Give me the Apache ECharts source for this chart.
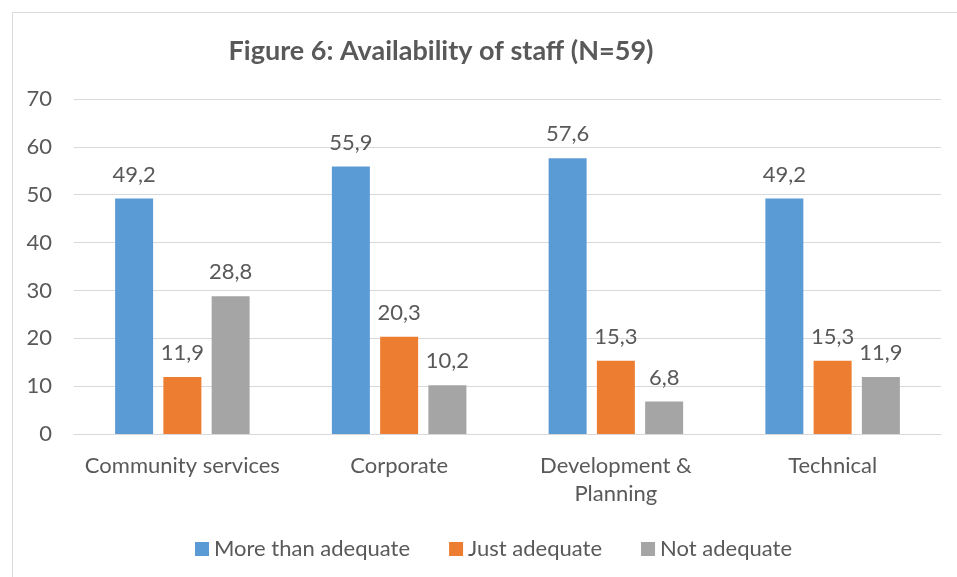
<!DOCTYPE html>
<html><head><meta charset="utf-8">
<script src="https://cdn.jsdelivr.net/npm/echarts@6/dist/echarts.min.js"></script>
<style>html,body{margin:0;padding:0;background:#fff}#c{width:957px;height:577px}</style>
</head><body><div id="c"></div>
<script>
const categories = ['Community services', 'Corporate', 'Development &\nPlanning', 'Technical'];
const moreThanAdequate = [49.2, 55.9, 57.6, 49.2];
const justAdequate = [11.9, 20.3, 15.3, 15.3];
const notAdequate = [28.8, 10.2, 6.8, 11.9];
const seriesNames = ['More than adequate', 'Just adequate', 'Not adequate'];
const colors = ['#5B9BD5', '#ED7D31', '#A5A5A5'];
const FONT = 'Lato';
const TXT = '#595959';
const chart = echarts.init(document.getElementById('c'), null, {renderer: 'canvas'});
const lbl = {show: true, position: 'top', distance: 13, color: TXT, fontSize: 22, fontFamily: FONT,
  formatter: p => String(p.value).replace('.', ',')};
chart.setOption({
  animation: false,
  color: colors,
  title: {text: 'Figure 6: Availability of staff (N=59)', left: 436, top: 33, textAlign: 'center',
    textStyle: {fontFamily: FONT, fontWeight: 'bold', fontSize: 27, color: TXT}},
  graphic: [{type: 'rect', left: 10, top: 10, shape: {width: 960, height: 580},
    style: {fill: 'none', stroke: '#D9D9D9', lineWidth: 1}, silent: true}],
  legend: {top: 533, left: 190, itemWidth: 14, itemHeight: 14, itemGap: 39,
    icon: 'rect', textStyle: {fontFamily: FONT, fontSize: 22, color: TXT}},
  grid: {left: 74, right: 16, top: 99, bottom: 143, containLabel: false},
  xAxis: {type: 'category', data: categories,
    axisLine: {lineStyle: {color: '#D9D9D9', width: 1}}, axisTick: {show: false},
    axisLabel: {fontFamily: FONT, fontSize: 22, color: TXT, margin: 18, lineHeight: 28, interval: 0}},
  yAxis: {type: 'value', min: 0, max: 70, interval: 10,
    axisLine: {show: false}, axisTick: {show: false},
    splitLine: {lineStyle: {color: '#D9D9D9', width: 1}},
    axisLabel: {fontFamily: FONT, fontSize: 22, color: TXT, margin: 22}},
  series: [
    {name: seriesNames[0], type: 'bar', data: moreThanAdequate, barWidth: 38, barGap: '27%', label: lbl},
    {name: seriesNames[1], type: 'bar', data: justAdequate, barWidth: 38, barGap: '27%', label: lbl},
    {name: seriesNames[2], type: 'bar', data: notAdequate, barWidth: 38, barGap: '27%', label: lbl}
  ]
});
</script></body></html>
